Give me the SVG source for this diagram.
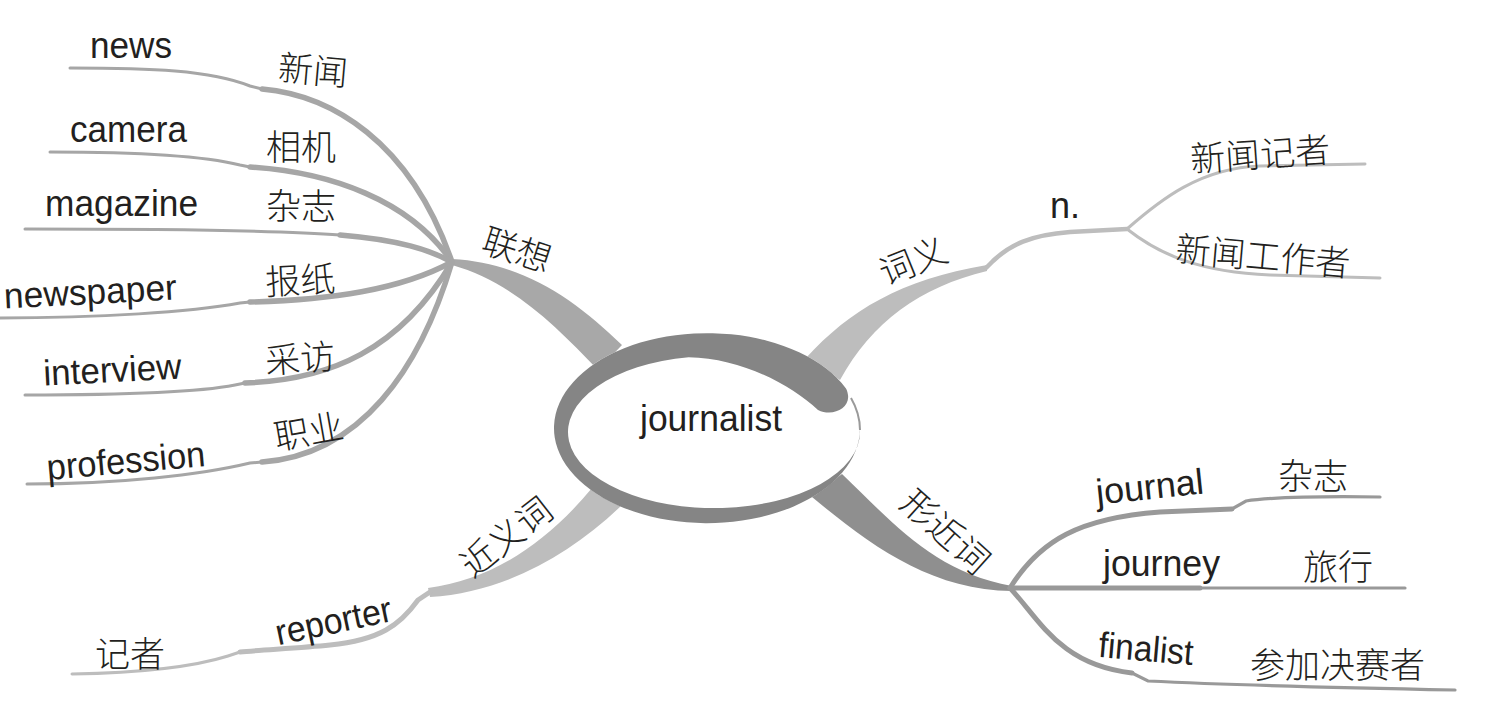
<svg xmlns="http://www.w3.org/2000/svg" width="1488" height="711" viewBox="0 0 1488 711">
<style>
.en{font-family:"Liberation Sans",Arial,sans-serif;font-size:36px;fill:#231f20}
.zh{font-family:"Noto Sans CJK SC","Noto Sans",sans-serif;font-size:35px;font-weight:300;fill:#231f20}
.l1{fill:none;stroke:#a6a6a6;stroke-width:5.5;stroke-linecap:round}
.l2{fill:none;stroke:#a6a6a6;stroke-width:3;stroke-linecap:round}
.r1{fill:none;stroke:#bdbdbd;stroke-width:4.5;stroke-linecap:round}
.r2{fill:none;stroke:#bdbdbd;stroke-width:3;stroke-linecap:round}
.b1{fill:none;stroke:#999999;stroke-width:5;stroke-linecap:round}
.b2{fill:none;stroke:#999999;stroke-width:3.2;stroke-linecap:round}
.s1{fill:none;stroke:#bdbdbd;stroke-width:5;stroke-linecap:round}
.s2{fill:none;stroke:#bdbdbd;stroke-width:3;stroke-linecap:round}
</style>
<rect width="1488" height="711" fill="#ffffff"/>
<g id="connectors">
  <!-- 联想 main branch -->
  <path d="M452,259 C525,263 575,300 622,345 L598,370 C555,325 512,282 452,265 Z" fill="#a8a8a8"/>
  <!-- left sub lines -->
  <path class="l1" d="M452,262 C410,140 330,95 262,89"/>
  <path class="l2" d="M262,89 L250,86 C210,70 150,68 70,68"/>
  <path class="l1" d="M452,262 C410,200 330,172 250,167"/>
  <path class="l2" d="M250,167 L240,165 C200,155 130,152 50,152"/>
  <path class="l1" d="M452,262 C430,250 400,240 340,235"/>
  <path class="l2" d="M340,235 C280,230 150,229 25,229"/>
  <path class="l1" d="M452,262 C400,290 330,300 250,302"/>
  <path class="l2" d="M250,302 L240,303 C190,312 100,318 0,318"/>
  <path class="l1" d="M452,262 C400,350 330,380 245,383"/>
  <path class="l2" d="M245,383 L235,385 C200,392 120,395 25,395"/>
  <path class="l1" d="M452,262 C420,370 360,455 262,462"/>
  <path class="l2" d="M262,462 L250,463 C200,475 120,484 27,484"/>
  <!-- 词义 branch -->
  <path d="M806,358 C850,310 900,280 987,265 L987,271 C920,287 872,322 840,380 Z" fill="#bdbdbd"/>
  <path class="r1" d="M986,268 L993,261 C1010,245 1030,235 1070,232 L1127,229"/>
  <path class="r2" d="M1127,229 C1160,200 1200,168 1260,166 L1365,164"/>
  <path class="r2" d="M1127,229 C1160,255 1200,272 1270,275 L1380,278"/>
  <!-- 形近词 branch -->
  <path d="M842,474 C895,525 935,572 1012,586 L1012,591 C930,590 870,545 812,497 Z" fill="#8f8f8f"/>
  <path class="b1" d="M1010,588 C1040,540 1080,518 1160,512 L1232,509"/>
  <path class="b2" d="M1232,509 L1246,501 C1270,497 1330,496 1380,497"/>
  <path class="b1" d="M1010,588 L1200,588"/>
  <path class="b2" d="M1200,588 L1405,588"/>
  <path class="b1" d="M1010,588 C1040,620 1060,665 1132,673"/>
  <path class="b2" d="M1132,673 L1148,681 C1250,686 1350,688 1455,690"/>
  <!-- 近义词 branch -->
  <path d="M592,488 C545,545 490,580 428,588 L430,597 C505,592 570,555 622,505 Z" fill="#bdbdbd"/>
  <path class="s1" d="M430,592 L418,600 C400,625 380,640 330,645 C300,648 260,650 240,652"/>
  <path class="s2" d="M240,652 L228,656 C190,668 130,673 72,674"/>
</g>
<g id="center">
  <ellipse cx="707" cy="428" rx="153" ry="95" fill="#ffffff"/>
  <path d="M845.6,387.9 A153,95 0 1 0 860,428 L860,432 A146,76 0 1 1 688.6,357.2 C740,358 790,384 818,410 C832,417 850,409 848,395 C847.5,391 846.5,389 845.6,387.9 Z" fill="#858585"/>
  <path d="M851,398 A153,95 0 0 1 860,430" fill="none" stroke="#9a9a9a" stroke-width="2"/>
  <text class="en" x="640" y="431" textLength="142" lengthAdjust="spacingAndGlyphs">journalist</text>
</g>
<g id="n-lianxiang"><text class="zh" transform="translate(513,262) rotate(18)" text-anchor="middle">联想</text></g>
<g id="n-news"><text class="en" x="90" y="58" textLength="82" lengthAdjust="spacingAndGlyphs">news</text><text class="zh" transform="translate(312,83) rotate(5)" text-anchor="middle">新闻</text></g>
<g id="n-camera"><text class="en" x="70" y="142" textLength="117" lengthAdjust="spacingAndGlyphs">camera</text><text class="zh" x="266" y="160">相机</text></g>
<g id="n-magazine"><text class="en" x="45" y="216" textLength="153" lengthAdjust="spacingAndGlyphs">magazine</text><text class="zh" x="266" y="219">杂志</text></g>
<g id="n-newspaper"><text class="en" transform="translate(91,304) rotate(-3)" text-anchor="middle" textLength="173" lengthAdjust="spacingAndGlyphs">newspaper</text><text class="zh" transform="translate(301,293) rotate(-3)" text-anchor="middle">报纸</text></g>
<g id="n-interview"><text class="en" transform="translate(113,382) rotate(-3)" text-anchor="middle" textLength="138" lengthAdjust="spacingAndGlyphs">interview</text><text class="zh" transform="translate(301,371) rotate(-4)" text-anchor="middle">采访</text></g>
<g id="n-profession"><text class="en" transform="translate(127,473) rotate(-5)" text-anchor="middle" textLength="159" lengthAdjust="spacingAndGlyphs">profession</text><text class="zh" transform="translate(311,444) rotate(-10)" text-anchor="middle">职业</text></g>
<g id="n-ciyi"><text class="zh" transform="translate(918,273) rotate(-22)" text-anchor="middle">词义</text></g>
<g id="n-n"><text class="en" x="1050" y="218">n.</text></g>
<g id="n-xinwenjizhe"><text class="zh" transform="translate(1261,167) rotate(-4)" text-anchor="middle">新闻记者</text></g>
<g id="n-xinwengongzuozhe"><text class="zh" transform="translate(1262,269) rotate(5)" text-anchor="middle">新闻工作者</text></g>
<g id="n-xingjinci"><text class="zh" transform="translate(937,541) rotate(42)" text-anchor="middle">形近词</text></g>
<g id="n-journal"><text class="en" transform="translate(1151,499) rotate(-6)" text-anchor="middle" textLength="108" lengthAdjust="spacingAndGlyphs">journal</text><text class="zh" x="1278" y="489">杂志</text></g>
<g id="n-journey"><text class="en" x="1103" y="576" textLength="117" lengthAdjust="spacingAndGlyphs">journey</text><text class="zh" x="1303" y="580">旅行</text></g>
<g id="n-finalist"><text class="en" transform="translate(1145,661) rotate(5)" text-anchor="middle" textLength="95" lengthAdjust="spacingAndGlyphs">finalist</text><text class="zh" x="1250" y="678">参加决赛者</text></g>
<g id="n-jinyici"><text class="zh" transform="translate(514,547) rotate(-38)" text-anchor="middle">近义词</text></g>
<g id="n-reporter"><text class="en" transform="translate(336,633) rotate(-12)" text-anchor="middle" textLength="118" lengthAdjust="spacingAndGlyphs">reporter</text></g>
<g id="n-jizhe"><text class="zh" x="95" y="667">记者</text></g>
</svg>
